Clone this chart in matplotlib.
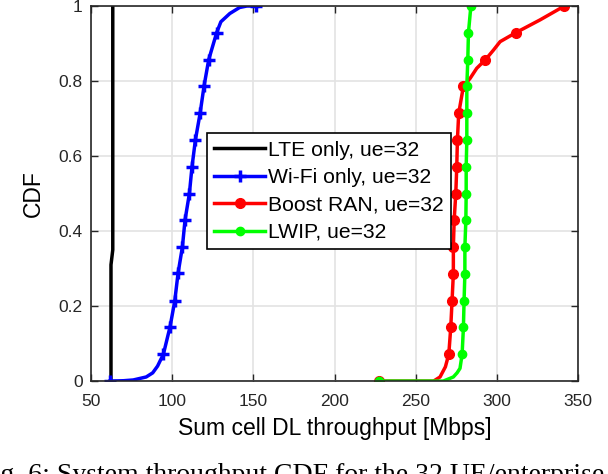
"""CDF of sum cell DL throughput for the 32 UE enterprise scenario."""

import matplotlib
matplotlib.use('Agg')
import matplotlib.pyplot as plt

# values (x in Mbps, y = CDF)
lte_x = [62.3, 62.3, 63.4, 63.4]
lte_y = [0.0, 0.31, 0.35, 1.0]

wifi_x = [61.7, 70, 76, 84, 88, 91, 94.6, 98.7, 101.6, 103.6, 106.3, 107.9, 110.6,
          112.2, 114.3, 117.2, 119.6, 122.5, 127.4, 130, 135.5, 141.5, 146, 151.5]
wifi_y = [0.0, 0.001, 0.003, 0.011, 0.022, 0.04, 0.072, 0.145, 0.214, 0.287, 0.358,
          0.429, 0.5, 0.571, 0.643, 0.714, 0.786, 0.857, 0.929, 0.958, 0.98, 0.996,
          1.0, 1.0]
wifi_marks = [0, 6, 7, 8, 9, 10, 11, 12, 13, 14, 15, 16, 17, 18, 23]

boost_x = [227.6, 261, 265, 268.3, 270.4, 271.6, 272.4, 273.2, 273.2, 273.7, 274.7,
           275.3, 275.7, 276.5, 279.4, 283.5, 287.6, 293, 298, 302, 311.7, 326.6, 341.6]
boost_y = [0.0, 0.0, 0.011, 0.038, 0.072, 0.143, 0.214, 0.286, 0.357, 0.429, 0.5,
           0.571, 0.643, 0.714, 0.786, 0.807, 0.834, 0.857, 0.883, 0.905, 0.929,
           0.963, 1.0]
boost_marks = [0, 4, 5, 6, 7, 8, 9, 10, 11, 12, 13, 14, 17, 20, 22]

lwip_x = [227.6, 267, 273.2, 275.5, 277.3, 278.6, 279.4, 279.8, 280.3, 280.3, 280.9,
          281.1, 281.1, 281.5, 281.5, 281.5, 282.1, 282.5, 284]
lwip_y = [0.0, 0.0, 0.011, 0.022, 0.034, 0.072, 0.143, 0.214, 0.286, 0.357, 0.429,
          0.5, 0.571, 0.643, 0.714, 0.786, 0.857, 0.929, 1.0]
lwip_marks = [0, 5, 6, 7, 8, 9, 10, 11, 12, 13, 14, 15, 16, 17, 18]

x_ticks = [50, 100, 150, 200, 250, 300, 350]
y_ticks = [0, 0.2, 0.4, 0.6, 0.8, 1]
y_tick_labels = ['0', '0.2', '0.4', '0.6', '0.8', '1']

plt.rcParams['font.family'] = ['Liberation Sans', 'DejaVu Sans']

fig = plt.figure(figsize=(6.08, 4.74), dpi=100)
ax = fig.add_axes([0.1497, 0.196, 0.801, 0.7913])

ax.plot(lte_x, lte_y, color='black', lw=2.5, label='LTE only, ue=32')
ax.plot(wifi_x, wifi_y, color=(0, 0, 1), lw=2.5, marker='+', ms=8, mew=2.5,
        markevery=wifi_marks, label='Wi-Fi only, ue=32')
ax.plot(boost_x, boost_y, color=(1, 0, 0), lw=2.5, marker='o', ms=7,
        markevery=boost_marks, label='Boost RAN, ue=32')
ax.plot(lwip_x, lwip_y, color=(0, 1, 0), lw=2.5, marker='o', ms=6,
        markevery=lwip_marks, label='LWIP, ue=32')

ax.set_xlim(50, 350)
ax.set_ylim(0, 1)
ax.set_xticks(x_ticks)
ax.set_yticks(y_ticks)
ax.set_yticklabels(y_tick_labels)
ax.grid(True, color='#e3e3e3', lw=1.2)
ax.set_axisbelow(True)
ax.tick_params(direction='in', length=5, width=1, labelsize=12.5, colors='#262626',
               top=True, right=True)
ax.tick_params(axis='x', pad=9)
ax.tick_params(axis='y', pad=6)
for spine in ax.spines.values():
    spine.set_color('#262626')
    spine.set_linewidth(1.2)

ax.set_xlabel('Sum cell DL throughput [Mbps]', fontsize=16.5, labelpad=6)
ax.set_ylabel('CDF', fontsize=16.5, labelpad=10)

leg = ax.legend(loc='upper left', bbox_to_anchor=(0.238, 0.661), borderaxespad=0,
                fontsize=15.2, handlelength=2.4, handletextpad=0.15, labelspacing=0.4,
                borderpad=0.35, fancybox=False, framealpha=1, edgecolor='black',
                numpoints=1)
leg.get_frame().set_linewidth(1.2)

fig.text(-0.038, 0.0232, 'Fig. 6: System throughput CDF for the 32 UE/enterprise scenario',
         family=['Liberation Serif', 'DejaVu Serif'], fontsize=20, va='top', ha='left')

fig.savefig('out.png', dpi=100)
